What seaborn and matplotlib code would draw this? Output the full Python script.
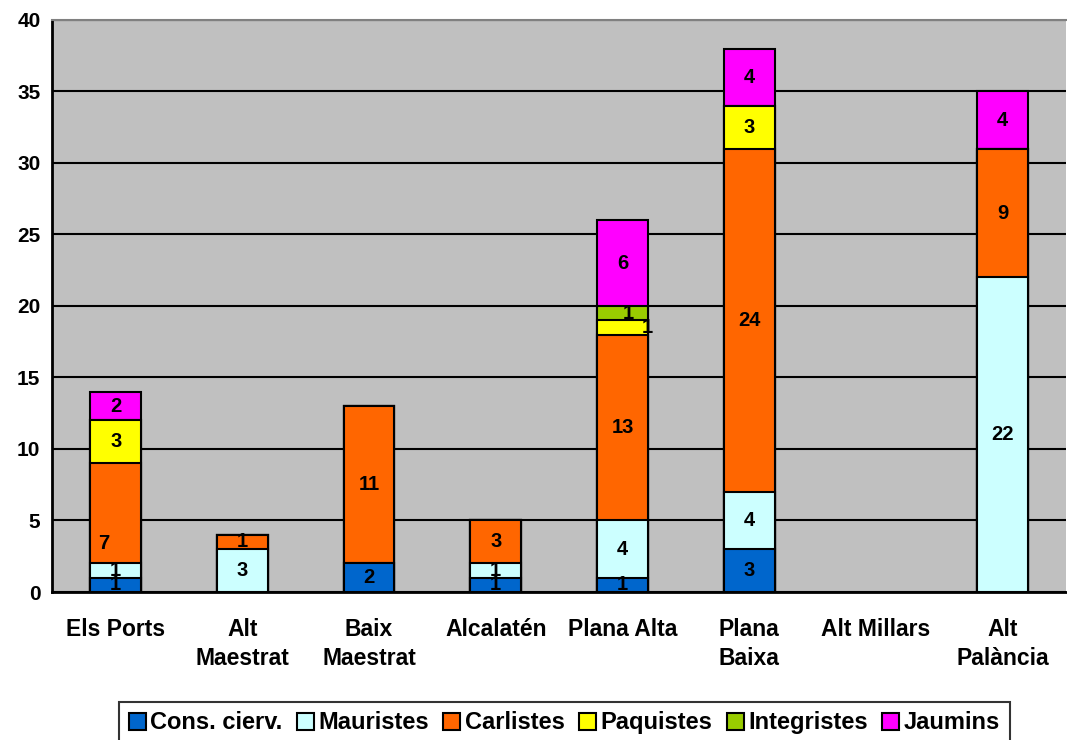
import numpy as np
import pandas as pd
import matplotlib.pyplot as plt
import seaborn as sns

# Data
comarques = ['Els Ports', 'Alt\nMaestrat', 'Baix\nMaestrat', 'Alcalatén',
             'Plana Alta', 'Plana\nBaixa', 'Alt Millars', 'Alt\nPalància']
cons_cierv = [1, 0, 2, 1, 1, 3, 0, 0]
mauristes = [1, 3, 0, 1, 4, 4, 0, 22]
carlistes = [7, 1, 11, 3, 13, 24, 0, 9]
paquistes = [3, 0, 0, 0, 1, 3, 0, 0]
integristes = [0, 0, 0, 0, 1, 0, 0, 0]
jaumins = [2, 0, 0, 0, 6, 4, 0, 4]

series = ['Cons. cierv.', 'Mauristes', 'Carlistes', 'Paquistes', 'Integristes', 'Jaumins']
colors = ['#0066CC', '#CCFFFF', '#FF6600', '#FFFF00', '#99CC00', '#FF00FF']

df = pd.DataFrame({'Comarca': comarques, 'Cons. cierv.': cons_cierv, 'Mauristes': mauristes,
                   'Carlistes': carlistes, 'Paquistes': paquistes,
                   'Integristes': integristes, 'Jaumins': jaumins})
cum = df[series].cumsum(axis=1).replace(0, np.nan)

sns.set_style('white')
plt.rcParams['font.family'] = ['Liberation Sans', 'DejaVu Sans']
plt.rcParams['font.weight'] = 'bold'
plt.rcParams['text.color'] = 'black'
plt.rcParams['xtick.color'] = 'black'
plt.rcParams['ytick.color'] = 'black'

fig = plt.figure(figsize=(10.67, 7.4), dpi=100)
ax = fig.add_axes([0.049, 0.2, 0.950, 0.773])
ax.set_facecolor('#C0C0C0')

# draw from the top layer down so each cumulative bar covers the one above
for s, c in zip(series[::-1], colors[::-1]):
    sns.barplot(x=df['Comarca'], y=cum[s], color=c, width=0.4, edgecolor='black',
                linewidth=1.5, saturation=1, ax=ax, zorder=3)

# Excel-style label nudges (category index, series) -> (dx, dy)
nudges = {(0, 'Carlistes'): (-0.09, -2.1), (4, 'Paquistes'): (0.2, 0.0),
          (4, 'Integristes'): (0.05, 0.0)}

# value labels in the middle of each segment
for i in range(len(comarques)):
    base = 0
    for s in series:
        v = df.loc[i, s]
        if v > 0:
            dx, dy = nudges.get((i, s), (0, 0))
            ax.text(i + dx, base + v / 2 + dy, str(v), ha='center', va='center',
                    fontsize=14.5, fontweight='bold', color='black', zorder=5)
        base += v

ax.set_ylim(0, 40)
ax.set_xlim(-0.5, len(comarques) - 0.5)
ax.set_yticks(range(0, 41, 5))
ax.yaxis.grid(True, color='black', linewidth=1.5, zorder=0)
ax.set_axisbelow(True)
ax.set_xlabel('')
ax.set_ylabel('')
ax.set_xticks(range(len(comarques)))
ax.set_xticklabels(comarques, fontsize=16.5, fontweight='bold', linespacing=1.3)
ax.set_xticks(np.arange(-0.5, len(comarques), 1), minor=True)
ax.tick_params(axis='x', which='major', length=0, pad=19)
ax.tick_params(axis='x', which='minor', length=6, width=1.5, color='black', direction='out')
ax.tick_params(axis='y', length=5, width=1.5, color='black', labelsize=15, direction='out')
for lab in ax.get_yticklabels():
    lab.set_fontweight('bold')
for side in ['left', 'bottom']:
    ax.spines[side].set_color('black')
    ax.spines[side].set_linewidth(2)
ax.spines['top'].set_color('#808080')
ax.spines['top'].set_linewidth(1.5)
ax.spines['right'].set_visible(False)

handles = [plt.Rectangle((0, 0), 1, 1, facecolor=c, edgecolor='black', linewidth=1.5)
           for c in colors]
leg = fig.legend(handles, series, loc='upper center', bbox_to_anchor=(0.529, 38 / 740),
                 ncol=6, frameon=True, fancybox=False, edgecolor='black',
                 fontsize=17, handlelength=0.72, handleheight=0.72,
                 handletextpad=0.2, columnspacing=0.6, borderpad=0.4,
                 borderaxespad=0)
leg.get_frame().set_linewidth(1.5)
for t in leg.get_texts():
    t.set_fontweight('bold')

fig.savefig('out.png', dpi=100)
